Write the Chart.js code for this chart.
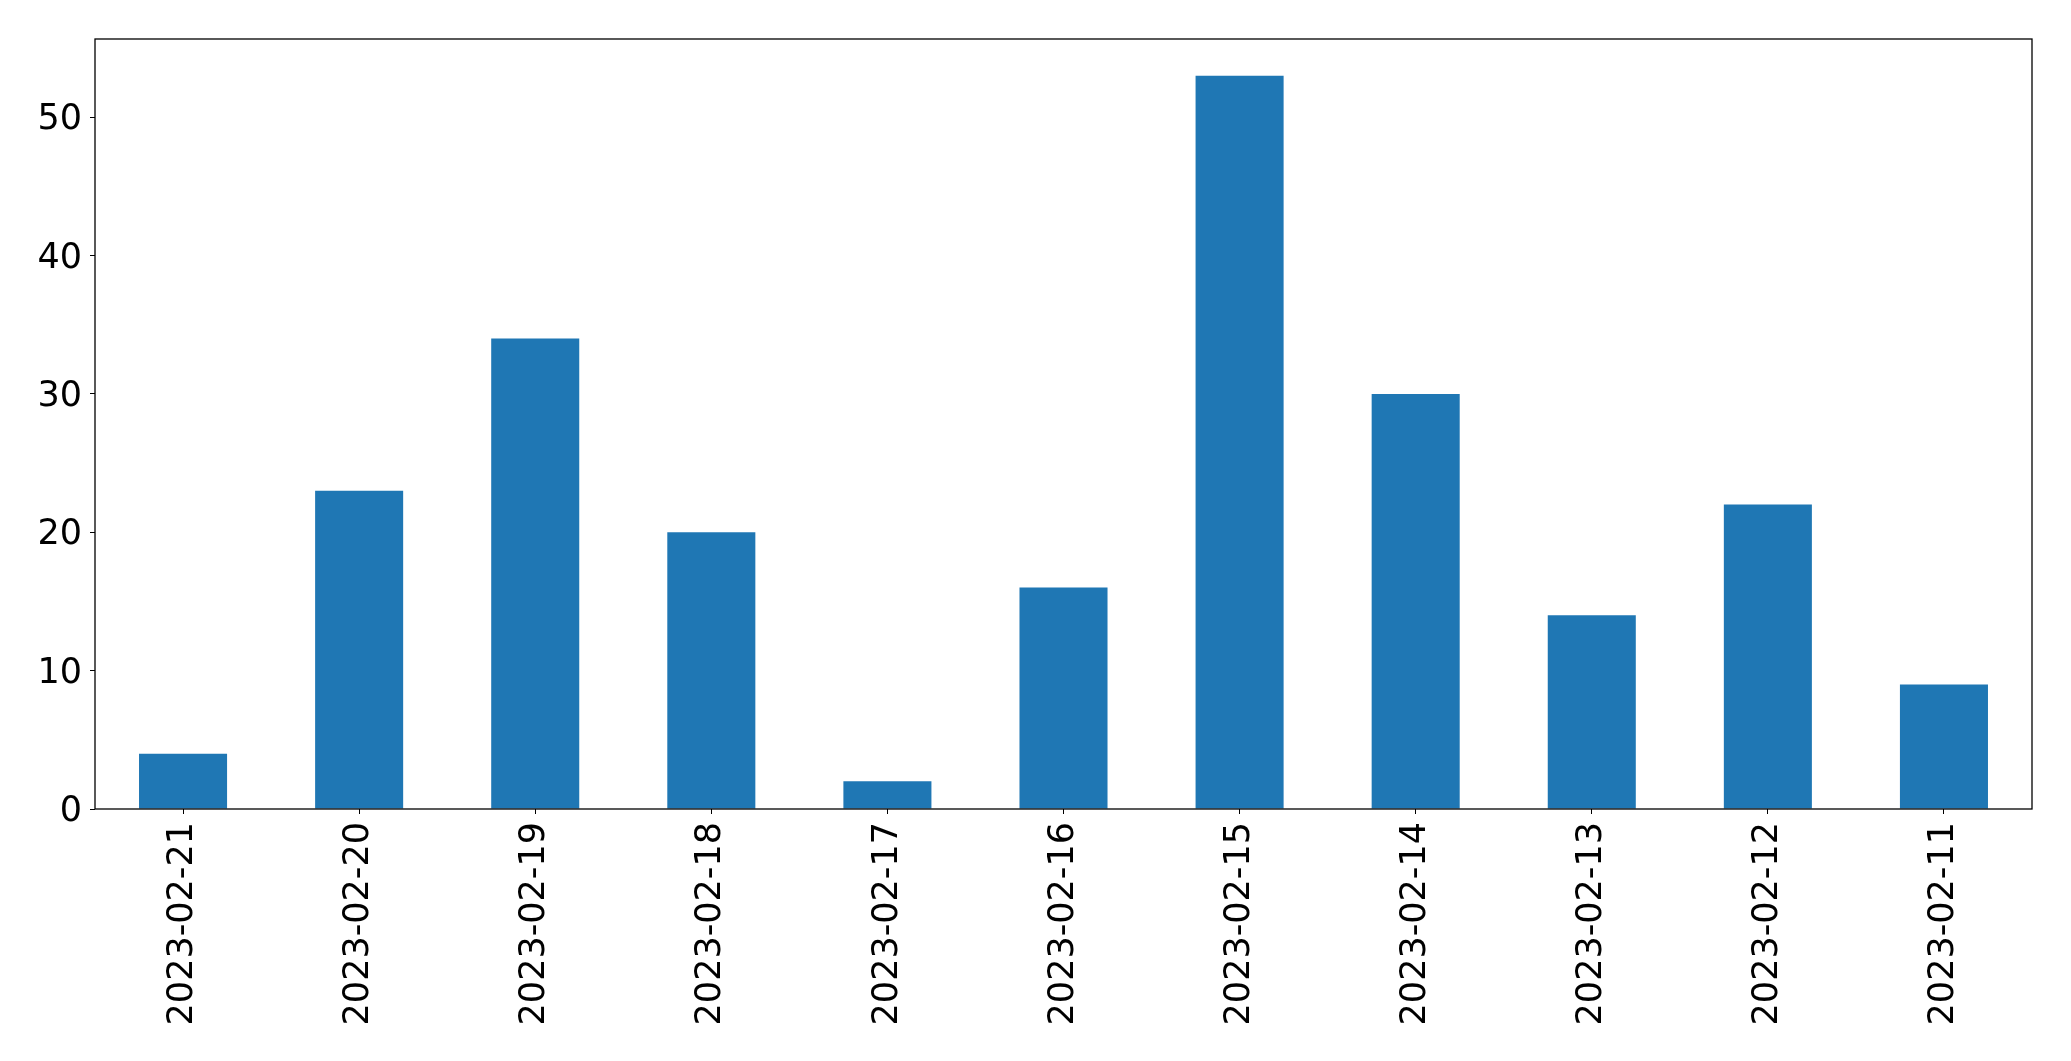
<!DOCTYPE html>
<html>
<head>
<meta charset="utf-8">
<script src="https://cdn.jsdelivr.net/npm/chart.js@4/dist/chart.umd.min.js"></script>
<style>
  html, body { margin: 0; padding: 0; background: #fff; }
  #wrap { width: 2071px; height: 1061px; }
</style>
</head>
<body>
<div id="wrap"><canvas id="Chart" width="2071" height="1061"></canvas></div>
<script>
// Dates as they appear on the x axis (newest first)
const dates = ['2023-02-21', '2023-02-20', '2023-02-19', '2023-02-18', '2023-02-17', '2023-02-16',
  '2023-02-15', '2023-02-14', '2023-02-13', '2023-02-12', '2023-02-11'];
const counts = [4, 23, 34, 20, 2, 16, 53, 30, 14, 22, 9];
const yTicks = [0, 10, 20, 30, 40, 50];

// Frame around the plot area, like a matplotlib axes box
const frame = {
  id: 'frame',
  afterDraw(chart) {
    const {ctx, chartArea: a} = chart;
    ctx.save();
    ctx.strokeStyle = '#000';
    ctx.lineWidth = 1.3;
    ctx.strokeRect(a.left, a.top, a.right - a.left, a.bottom - a.top);
    ctx.restore();
  }
};

const fontSpec = { family: '"DejaVu Sans", sans-serif', size: 35 };

const config = {
  type: 'bar',
  data: {
    labels: dates,
    datasets: [{
      data: counts,
      backgroundColor: '#1f77b4',
      borderWidth: 0,
      barPercentage: 0.5,
      categoryPercentage: 1.0
    }]
  },
  options: {
    responsive: false,
    animation: false,
    layout: { padding: { top: 39, right: 39, left: 0, bottom: 0 } },
    plugins: { legend: { display: false }, tooltip: { enabled: false } },
    scales: {
      x: {
        offset: true,
        grid: { display: true, drawOnChartArea: false, drawTicks: true, tickLength: 5, color: '#000', offset: false },
        border: { display: false },
        ticks: { color: '#000', font: fontSpec, minRotation: 90, maxRotation: 90, padding: 8, autoSkip: false },
        afterFit(scale) { scale.height = 252; }
      },
      y: {
        min: 0,
        max: 55.65,
        grid: { display: true, drawOnChartArea: false, drawTicks: true, tickLength: 5, color: '#000' },
        border: { display: false },
        ticks: { color: '#000', font: fontSpec, padding: 8, labelOffset: 3 },
        afterBuildTicks(scale) {
          scale.ticks = yTicks.map(v => ({ value: v }));
        },
        afterFit(scale) { scale.width = 95; }
      }
    }
  },
  plugins: [frame]
};

const spChart = new Chart(document.getElementById('Chart'), config);
</script>
</body>
</html>
